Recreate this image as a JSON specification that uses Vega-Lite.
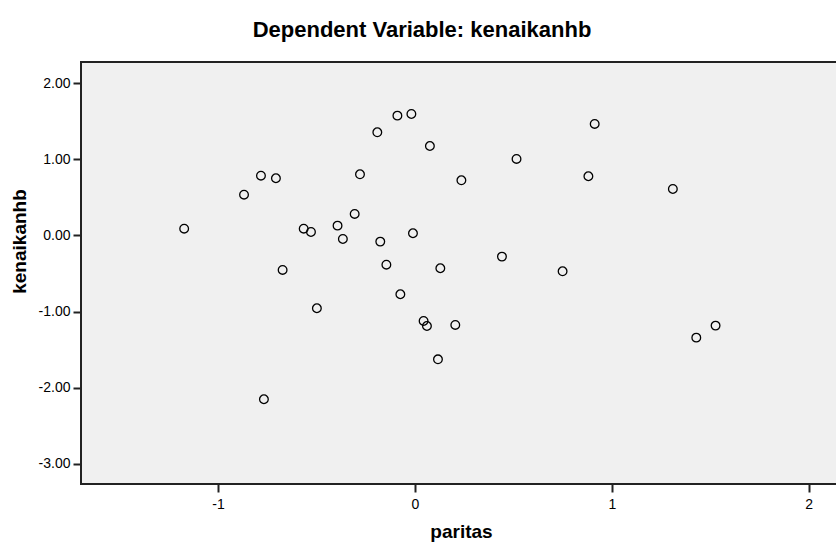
{
  "$schema": "https://vega.github.io/schema/vega-lite/v6.json",
  "autosize": "none",
  "width": 760,
  "height": 422,
  "padding": {"left": 81, "top": 62, "right": 0, "bottom": 63},
  "background": "white",
  "title": {
    "text": "Dependent Variable: kenaikanhb",
    "font": "Liberation Sans",
    "fontSize": 22,
    "fontWeight": "bold",
    "color": "#000000",
    "anchor": "middle",
    "baseline": "alphabetic",
    "offset": 3,
    "dx": -39
  },
  "config": {
    "view": {"fill": "#F0F0F0", "stroke": "#222222", "strokeWidth": 2},
    "font": "Liberation Sans",
    "locale": {"number": {"decimal": ".", "thousands": ",", "grouping": [3], "currency": ["", ""], "minus": "-"}}
  },
  "data": {
    "values": [
      {"paritas": -1.172, "kenaikanhb": 0.089},
      {"paritas": -0.868, "kenaikanhb": 0.536},
      {"paritas": -0.782, "kenaikanhb": 0.786},
      {"paritas": -0.706, "kenaikanhb": 0.752},
      {"paritas": -0.565, "kenaikanhb": 0.089},
      {"paritas": -0.528, "kenaikanhb": 0.046},
      {"paritas": -0.672, "kenaikanhb": -0.453},
      {"paritas": -0.393, "kenaikanhb": 0.129},
      {"paritas": -0.366, "kenaikanhb": -0.046},
      {"paritas": -0.306, "kenaikanhb": 0.283},
      {"paritas": -0.279, "kenaikanhb": 0.804},
      {"paritas": -0.191, "kenaikanhb": 1.356},
      {"paritas": -0.089, "kenaikanhb": 1.575},
      {"paritas": -0.018, "kenaikanhb": 1.597},
      {"paritas": 0.076, "kenaikanhb": 1.176},
      {"paritas": 0.236, "kenaikanhb": 0.725},
      {"paritas": -0.176, "kenaikanhb": -0.081},
      {"paritas": -0.010, "kenaikanhb": 0.029},
      {"paritas": -0.145, "kenaikanhb": -0.384},
      {"paritas": 0.129, "kenaikanhb": -0.431},
      {"paritas": 0.442, "kenaikanhb": -0.278},
      {"paritas": -0.498, "kenaikanhb": -0.957},
      {"paritas": -0.074, "kenaikanhb": -0.773},
      {"paritas": 0.044, "kenaikanhb": -1.124},
      {"paritas": 0.061, "kenaikanhb": -1.190},
      {"paritas": 0.205, "kenaikanhb": -1.176},
      {"paritas": 0.117, "kenaikanhb": -1.628},
      {"paritas": -0.767, "kenaikanhb": -2.153},
      {"paritas": 0.913, "kenaikanhb": 1.466},
      {"paritas": 0.516, "kenaikanhb": 1.006},
      {"paritas": 0.881, "kenaikanhb": 0.778},
      {"paritas": 1.310, "kenaikanhb": 0.611},
      {"paritas": 0.750, "kenaikanhb": -0.471},
      {"paritas": 1.527, "kenaikanhb": -1.185},
      {"paritas": 1.429, "kenaikanhb": -1.343}
    ]
  },
  "mark": {"type": "point", "shape": "circle", "filled": false, "stroke": "#000000", "strokeWidth": 1.3, "size": 75, "opacity": 1},
  "encoding": {
    "x": {
      "field": "paritas",
      "type": "quantitative",
      "scale": {"domain": [-1.696, 2.164], "nice": false, "zero": false},
      "axis": {
        "title": "paritas",
        "values": [-1, 0, 1, 2],
        "format": "d",
        "grid": false,
        "domain": false,
        "tickColor": "#222222",
        "tickWidth": 2,
        "tickSize": 8,
        "labelFontSize": 14,
        "labelColor": "#000000",
        "labelPadding": 5,
        "titleFontSize": 19,
        "titleFontWeight": "bold",
        "titleColor": "#000000",
        "titleBaseline": "alphabetic",
        "titleY": 53
      }
    },
    "y": {
      "field": "kenaikanhb",
      "type": "quantitative",
      "scale": {"domain": [-3.267, 2.28], "nice": false, "zero": false},
      "axis": {
        "title": "kenaikanhb",
        "values": [-3, -2, -1, 0, 1, 2],
        "format": ".2f",
        "grid": false,
        "domain": false,
        "tickColor": "#222222",
        "tickWidth": 2,
        "tickSize": 8,
        "labelFontSize": 14,
        "labelColor": "#000000",
        "labelPadding": 3,
        "titleFontSize": 19,
        "titleFontWeight": "bold",
        "titleColor": "#000000",
        "titleAngle": -90,
        "titleAlign": "center",
        "titleBaseline": "alphabetic",
        "titleX": -56,
        "titleY": 179
      }
    }
  }
}
